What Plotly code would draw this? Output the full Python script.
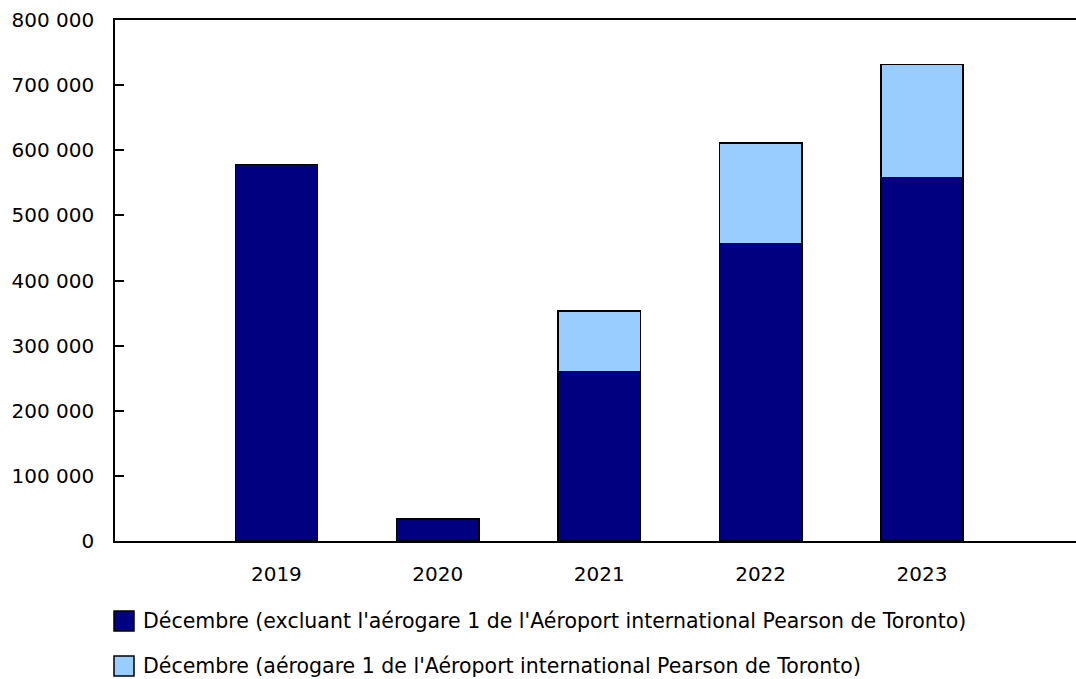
import plotly.graph_objects as go

years = ["2019", "2020", "2021", "2022", "2023"]
excl_t1 = [578000, 34000, 260000, 457000, 558000]
t1 = [None, None, 93000, 154000, 174000]
series_names = [
    "Décembre (excluant l'aérogare 1 de l'Aéroport international Pearson de Toronto)",
    "Décembre (aérogare 1 de l'Aéroport international Pearson de Toronto)",
]
colors = ["#000080", "#99CCFF"]
y_ticks = [0, 100000, 200000, 300000, 400000, 500000, 600000, 700000, 800000]

FONT = "DejaVu Sans, Verdana, sans-serif"
FS = 20

fig = go.Figure()
for vals, name, col in zip([excl_t1, t1], series_names, colors):
    fig.add_trace(go.Bar(
        x=years, y=vals, name=name, width=0.51,
        marker=dict(color=col, line=dict(color="black", width=1.5)),
        showlegend=False,
    ))

# manual legend (large squares as in the reference)
legend_y = [621, 666]
for yy, name, col in zip(legend_y, series_names, colors):
    fig.add_shape(type="rect", xref="paper", yref="paper",
                  x0=(114 - 115) / 961, x1=(134 - 115) / 961,
                  y0=(541 - (yy + 10)) / 521, y1=(541 - (yy - 10)) / 521,
                  fillcolor=col, line=dict(color="black", width=1.5))
    fig.add_annotation(xref="paper", yref="paper",
                       x=(141 - 115) / 961, y=(541 - yy) / 521,
                       xanchor="left", yanchor="middle", showarrow=False,
                       text=name, font=dict(family=FONT, size=20.5, color="black"))

fig.update_layout(
    barmode="stack",
    width=1076, height=679,
    margin=dict(l=115, r=0, t=20, b=138),
    paper_bgcolor="white", plot_bgcolor="white",
    font=dict(family=FONT, size=FS, color="black"),
    separators=", ",
    showlegend=False,
)
fig.update_xaxes(
    type="category", range=[-1, 4.954],
    showline=True, linecolor="black", linewidth=1.5, mirror=True,
    ticks="", showgrid=False, ticklabelstandoff=14,
    tickfont=dict(family=FONT, size=FS, color="black"),
)
fig.update_yaxes(
    range=[0, 800000], tickvals=y_ticks, tickformat=",d",
    showline=True, linecolor="black", linewidth=1.5,
    ticks="inside", ticklen=9, tickwidth=1.5, tickcolor="black",
    showgrid=False, zeroline=False, ticklabelstandoff=15,
    tickfont=dict(family=FONT, size=FS, color="black"),
)

fig.write_html(
    "out.html",
    config={"displayModeBar": False},
    post_script="document.body.style.margin='0px';document.body.style.overflow='hidden';",
)
